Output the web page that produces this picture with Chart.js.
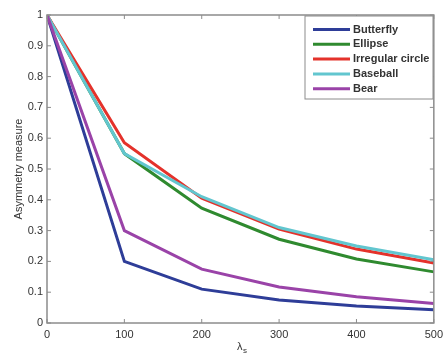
<!DOCTYPE html>
<html>
<head>
<meta charset="utf-8">
<script src="https://cdn.jsdelivr.net/npm/chart.js@4"></script>
<style>
  html, body { margin: 0; padding: 0; background: #fff; }
  #wrap { width: 448px; height: 356px; }
</style>
</head>
<body>
<div id="wrap"><canvas id="myChart" width="448" height="356"></canvas></div>
<script>
const lambdas = [0, 100, 200, 300, 400, 500];
const seriesNames = ['Butterfly', 'Ellipse', 'Irregular circle', 'Baseball', 'Bear'];
const butterfly = [1, 0.20, 0.11, 0.075, 0.055, 0.043];
const ellipse = [1, 0.55, 0.373, 0.272, 0.208, 0.166];
const irregular = [1, 0.585, 0.405, 0.305, 0.24, 0.195];
const baseball = [1, 0.55, 0.41, 0.31, 0.25, 0.205];
const bear = [1, 0.30, 0.175, 0.117, 0.085, 0.063];
const yTicks = [0, 0.1, 0.2, 0.3, 0.4, 0.5, 0.6, 0.7, 0.8, 0.9, 1];

const colors = ['#2e3d98', '#2f8a2f', '#e4322b', '#62c6cf', '#9a43a8'];
const allData = [butterfly, ellipse, irregular, baseball, bear];

const ctx = document.getElementById('myChart').getContext('2d');

// box around plot + inward ticks on all four sides, matlab style
const boxPlugin = {
    id: 'box',
    afterDatasetsDraw(chart) {
        const c = chart.ctx;
        const a = chart.chartArea;
        const xs = chart.scales.x, ys = chart.scales.y;
        c.save();
        c.strokeStyle = '#8c8c8c';
        c.lineWidth = 1.5;
        c.strokeRect(a.left, a.top, a.right - a.left, a.bottom - a.top);
        c.lineWidth = 1;
        for (let v of lambdas) {
            const px = xs.getPixelForValue(v);
            c.beginPath();
            c.moveTo(px, a.bottom); c.lineTo(px, a.bottom - 4);
            c.moveTo(px, a.top); c.lineTo(px, a.top + 4);
            c.stroke();
        }
        for (let v of yTicks) {
            const py = ys.getPixelForValue(v);
            c.beginPath();
            c.moveTo(a.left, py); c.lineTo(a.left + 4, py);
            c.moveTo(a.right, py); c.lineTo(a.right - 4, py);
            c.stroke();
        }
        c.restore();
    }
};

const legendPlugin = {
    id: 'boxLegend',
    afterDraw(chart) {
        const c = chart.ctx;
        const x0 = 305, y0 = 16, w = 128, h = 83;
        c.save();
        c.fillStyle = '#fff';
        c.fillRect(x0, y0, w, h);
        c.strokeStyle = '#8c8c8c';
        c.lineWidth = 1;
        c.strokeRect(x0, y0, w, h);
        c.font = 'bold 11px "Liberation Sans", Arial, sans-serif';
        c.textBaseline = 'middle';
        chart.data.datasets.forEach((ds, i) => {
            const y = 29.5 + i * 14.8;
            c.strokeStyle = ds.borderColor;
            c.lineWidth = 3;
            c.beginPath();
            c.moveTo(313, y); c.lineTo(350, y);
            c.stroke();
            c.fillStyle = '#333';
            c.fillText(ds.label, 353, y);
        });
        c.restore();
    }
};

const titlePlugin = {
    id: 'lambdaTitle',
    afterDraw(chart) {
        const c = chart.ctx;
        c.save();
        c.fillStyle = '#333';
        c.textBaseline = 'alphabetic';
        c.font = '11px "Liberation Sans", Arial, sans-serif';
        c.fillText('λ', 237, 350);
        c.font = '8px "Liberation Sans", Arial, sans-serif';
        c.fillText('s', 243, 353);
        c.restore();
    }
};

var myChart = new Chart(ctx, {
    type: 'line',
    data: {
        labels: lambdas,
        datasets: seriesNames.map((name, i) => ({
            label: name,
            data: lambdas.map((x, j) => ({ x: x, y: allData[i][j] })),
            borderColor: colors[i],
            backgroundColor: colors[i],
            borderWidth: 3,
            pointRadius: 0,
            tension: 0,
            fill: false,
            order: seriesNames.length - i
        }))
    },
    options: {
        responsive: false,
        animation: false,
        layout: { padding: { top: 15, right: 10, left: 12, bottom: 0 } },
        plugins: {
            legend: { display: false },
            tooltip: { enabled: false }
        },
        scales: {
            x: {
                type: 'linear',
                min: 0,
                max: 500,
                afterBuildTicks(scale) { scale.ticks = lambdas.map(v => ({ value: v })); },
                afterFit(scale) { scale.height = 33; },
                grid: { display: false, drawTicks: false },
                border: { display: false },
                ticks: {
                    color: '#333',
                    padding: 5,
                    maxRotation: 0,
                    font: { family: '"Liberation Sans", Arial, sans-serif', size: 11 }
                }
            },
            y: {
                min: 0,
                max: 1,
                afterBuildTicks(scale) { scale.ticks = yTicks.map(v => ({ value: v })); },
                afterFit(scale) { scale.width = 35; },
                grid: { display: false, drawTicks: false },
                border: { display: false },
                title: {
                    display: true,
                    text: 'Asymmetry measure',
                    color: '#333',
                    padding: 0,
                    font: { family: '"Liberation Sans", Arial, sans-serif', size: 11 }
                },
                ticks: {
                    color: '#333',
                    padding: 4,
                    callback: v => String(Math.round(v * 10) / 10),
                    font: { family: '"Liberation Sans", Arial, sans-serif', size: 11 }
                }
            }
        }
    },
    plugins: [boxPlugin, legendPlugin, titlePlugin]
});
</script>
</body>
</html>
